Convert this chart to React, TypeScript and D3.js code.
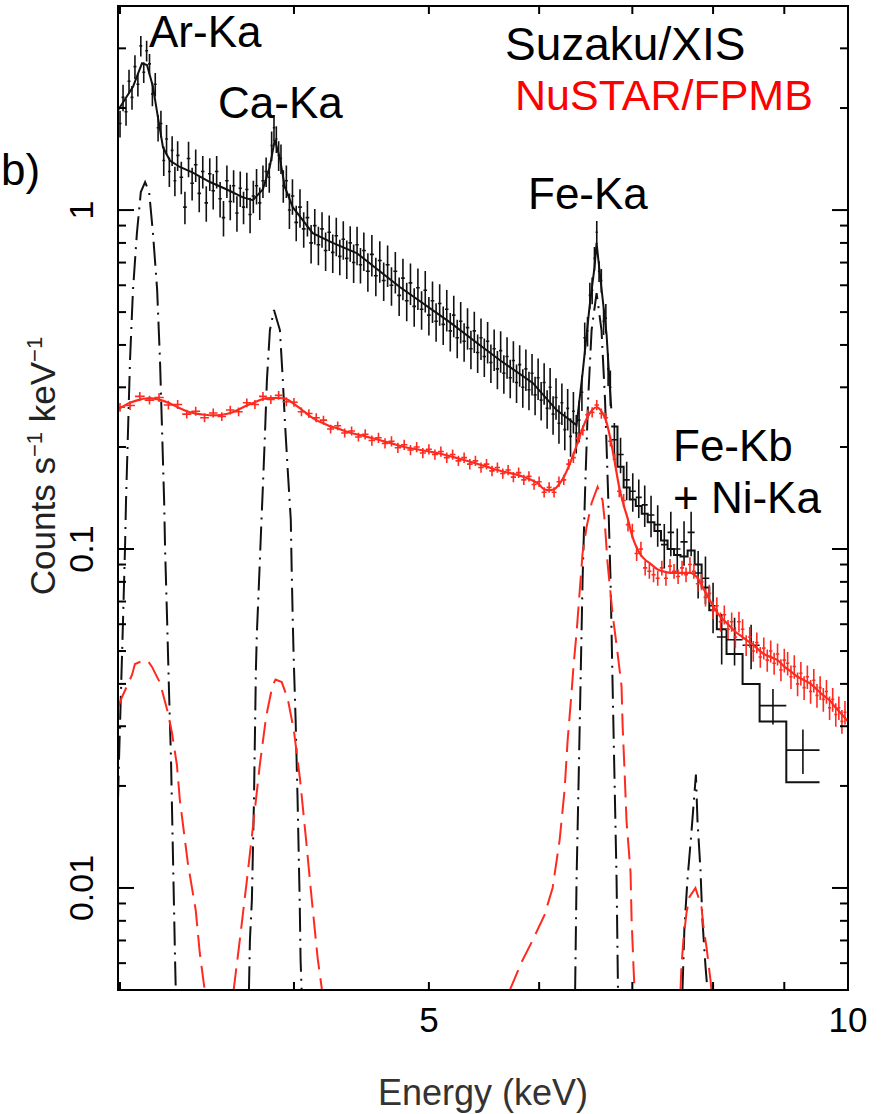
import React from "react";
import * as d3 from "d3";

// ---------------- data ----------------
// Suzaku/XIS data (dense part)
const suzakuE = [3.000,3.015,3.030,3.045,3.060,3.075,3.090,3.105,3.120,3.135,3.150,3.165,3.180,3.195,3.210,3.225,3.240,3.255,3.270,3.285,3.300,
3.320,3.340,3.360,3.380,3.400,3.420,3.440,3.460,3.480,3.500,3.520,3.540,3.560,3.580,3.600,3.620,3.640,3.660,3.680,3.700,3.720,3.740,3.760,3.780,3.800,3.820,3.840,
3.855,3.870,3.885,3.900,3.915,3.930,
3.950,3.970,3.990,
4.015,4.040,4.065,4.090,4.115,4.140,4.165,4.190,4.215,4.240,4.265,4.290,4.315,4.340,4.365,4.390,4.415,4.440,4.465,4.490,
4.520,4.550,4.580,4.610,4.640,4.670,4.700,4.730,4.760,4.790,4.820,4.850,4.880,4.910,4.940,4.970,5.000,5.030,5.060,5.090,5.120,5.150,5.180,5.210,5.240,5.270,5.300,5.330,5.360,5.390,5.420,5.450,5.480,5.510,5.540,5.570,5.600,5.630,5.660,5.690,5.720,5.750,5.780,5.810,5.840,5.870,5.900,5.930,5.960,5.990,6.020,6.050,6.080,6.110,6.140,6.170,6.200,6.230,6.260,6.290,6.320,6.350,6.380,6.410,
6.440,6.470,
6.500,6.525,6.550,6.575,6.600,6.625,6.650,6.675,6.700,6.725,6.750];
const suzakuV = [1.80,2.15,1.95,2.40,2.15,2.65,2.35,3.05,2.55,2.95,2.70,2.20,2.35,1.75,1.80,1.40,1.62,1.30,1.50,1.22,1.45,
1.25,1.02,1.42,1.20,1.36,1.12,1.30,1.05,1.28,1.14,1.30,1.08,0.95,1.22,1.06,1.18,0.98,1.16,1.02,1.15,0.97,1.10,1.18,1.05,1.22,1.30,1.25,
1.55,1.75,1.62,1.45,1.42,1.18,
1.22,1.00,1.10,
0.92,1.02,0.88,0.95,0.80,0.90,0.79,0.88,0.76,0.86,0.75,0.84,0.73,0.82,0.72,0.80,0.70,0.79,0.69,0.76,
0.66,0.74,0.64,0.71,0.62,0.69,0.60,0.66,0.56,0.63,0.54,0.61,0.52,0.59,0.51,0.58,0.49,0.54,0.47,0.53,0.46,0.51,0.44,0.49,0.42,0.47,0.41,0.45,0.39,0.44,0.38,0.42,0.37,0.41,0.355,0.39,0.34,0.385,0.33,0.37,0.32,0.36,0.31,0.35,0.30,0.34,0.295,0.33,0.285,0.32,0.275,0.31,0.26,0.30,0.25,0.28,0.235,0.27,0.225,0.26,0.215,0.255,0.22,0.24,
0.29,0.42,
0.44,0.56,0.58,0.72,0.86,0.66,0.62,0.47,0.48,0.34,0.30];
const suzakuErr = [0.09,0.09,0.09,0.08,0.08,0.08,0.08,0.07,0.07,0.07,0.07,0.08,0.08,0.09,0.09,0.10,0.10,0.10,0.10,0.10,0.10,
0.11,0.11,0.12,0.11,0.11,0.12,0.11,0.12,0.11,0.12,0.11,0.12,0.12,0.11,0.12,0.11,0.12,0.12,0.11,0.12,0.12,0.11,0.12,0.11,0.11,0.10,0.10,
0.10,0.09,0.09,0.10,0.10,0.11,
0.11,0.12,0.12,
0.12,0.13,0.12,0.12,0.13,0.12,0.13,0.12,0.13,0.12,0.13,0.13,0.12,0.13,0.13,0.12,0.13,0.13,0.12,0.13,
0.13,0.14,0.13,0.14,0.13,0.14,0.13,0.14,0.13,0.14,0.13,0.14,0.13,0.14,0.13,0.14,0.13,0.14,0.13,0.14,0.13,0.14,0.13,0.14,0.13,0.14,0.13,0.14,0.13,0.14,0.13,0.14,0.13,0.14,0.13,0.14,0.13,0.14,0.13,0.14,0.13,0.14,0.13,0.14,0.13,0.14,0.13,0.14,0.13,0.14,0.13,0.14,0.13,0.14,0.13,0.14,0.13,0.14,0.13,0.14,0.13,0.14,0.13,0.14,
0.12,0.11,
0.10,0.09,0.09,0.08,0.08,0.07,0.08,0.09,0.10,0.11,0.12];
// Suzaku model (smooth part)
const suzakuModelE = [2.99,3.065,3.111,3.137,3.168,3.194,3.221,3.258,3.312,3.384,3.481,3.580,3.676,3.737,3.799,3.843,3.875,3.907,3.940,3.992,4.126,4.265,4.437,4.765,5.175,5.438,5.621,5.937,6.176,6.383,6.447,6.522,6.576,6.598,6.631,6.708,6.741,6.76];
const suzakuModelV = [1.97,2.31,2.71,2.68,2.31,1.88,1.53,1.40,1.34,1.29,1.21,1.15,1.09,1.07,1.15,1.34,1.61,1.43,1.17,1.02,0.855,0.80,0.747,0.593,0.467,0.40,0.361,0.309,0.257,0.232,0.33,0.52,0.68,0.80,0.66,0.43,0.31,0.26];
// Suzaku high-energy wide bins
const suzakuHiEdges = [6.76,6.83,6.90,6.97,7.04,7.11,7.18,7.26,7.34,7.42,7.50,7.58,7.67,7.76,7.85,7.95,8.05,8.18,8.40,8.64,9.03,9.54];
const suzakuHiModel = [0.23,0.175,0.152,0.140,0.134,0.127,0.120,0.113,0.106,0.100,0.096,0.095,0.099,0.090,0.077,0.066,0.058,0.049,0.040,0.031,0.0205];
const suzakuHiV = [0.21,0.19,0.16,0.148,0.142,0.135,0.126,0.118,0.103,0.112,0.100,0.105,0.112,0.085,0.082,0.068,0.055,0.054,0.052,0.0345,0.0255];
const suzakuHiErr = [0.12,0.12,0.13,0.13,0.13,0.14,0.14,0.14,0.15,0.15,0.15,0.15,0.15,0.16,0.16,0.17,0.17,0.16,0.15,0.12,0.15];

// NuSTAR/FPMB data
const nustarE = [3.00,3.05,3.10,3.15,3.20,3.25,3.30,3.35,3.40,3.45,
3.50,3.55,3.60,3.65,3.70,3.75,3.80,3.85,3.90,3.95,
4.00,4.05,4.10,4.15,4.20,4.25,4.30,4.35,4.40,4.45,
4.50,4.55,4.60,4.65,4.70,4.75,4.80,4.85,4.90,4.95,
5.00,5.05,5.10,5.15,5.20,5.25,5.30,5.35,5.40,5.45,
5.50,5.55,5.60,5.65,5.70,5.75,5.80,5.85,5.90,5.95,
6.00,6.05,6.10,6.15,6.20,6.25,6.30,6.35,6.40,6.45,
6.50,6.55,6.60,6.65,6.70,6.75,6.80,6.85,6.90,6.95,
7.00,7.05,7.10,7.15,7.20,7.25,7.30,7.35,7.40,7.45,
7.50,7.55,7.60,7.65,7.70,7.75,7.80,7.85,7.90,7.95,
8.00,8.05,8.10,8.15,8.20,8.25,8.30,8.35,8.40,8.45,
8.50,8.55,8.60,8.65,8.70,8.75,8.80,8.85,8.90,8.95,
9.00,9.05,9.10,9.15,9.20,9.25,9.30,9.35,9.40,9.45,
9.50,9.55,9.60,9.65,9.70,9.75,9.80,9.85,9.90,9.95,
10.00];
const nustarV = [0.262,0.265,0.282,0.275,0.280,0.266,0.267,0.250,0.255,0.244,
0.252,0.246,0.257,0.254,0.270,0.267,0.282,0.276,0.284,0.272,
0.271,0.254,0.251,0.244,0.240,0.226,0.231,0.220,0.223,0.214,
0.218,0.209,0.213,0.205,0.208,0.199,0.203,0.196,0.200,0.192,
0.197,0.190,0.194,0.186,0.190,0.182,0.186,0.178,0.182,0.174,
0.178,0.170,0.174,0.167,0.171,0.163,0.168,0.160,0.164,0.155,
0.158,0.147,0.152,0.147,0.158,0.160,0.178,0.186,0.212,0.224,
0.249,0.253,0.266,0.251,0.244,0.208,0.184,0.148,0.139,0.118,
0.113,0.097,0.100,0.088,0.086,0.084,0.082,0.088,0.082,0.089,
0.086,0.083,0.088,0.084,0.090,0.086,0.079,0.080,0.072,0.074,
0.066,0.068,0.061,0.064,0.058,0.061,0.055,0.061,0.058,0.052,
0.055,0.050,0.053,0.048,0.051,0.047,0.050,0.046,0.049,0.044,
0.047,0.046,0.042,0.045,0.040,0.043,0.039,0.042,0.038,0.041,
0.037,0.039,0.036,0.038,0.034,0.036,0.0325,0.034,0.031,0.033,
0.030];
const nustarErr = [0.03,0.03,0.03,0.03,0.03,0.03,0.03,0.03,0.03,0.03,
0.03,0.03,0.03,0.03,0.03,0.03,0.03,0.03,0.03,0.03,
0.03,0.03,0.03,0.03,0.03,0.03,0.03,0.03,0.03,0.03,
0.035,0.035,0.035,0.035,0.035,0.035,0.035,0.035,0.035,0.035,
0.035,0.035,0.035,0.035,0.035,0.035,0.035,0.035,0.035,0.035,
0.035,0.035,0.035,0.035,0.035,0.035,0.035,0.035,0.035,0.035,
0.035,0.035,0.035,0.035,0.035,0.035,0.035,0.035,0.035,0.035,
0.035,0.035,0.035,0.035,0.035,0.035,0.04,0.04,0.045,0.045,
0.05,0.05,0.05,0.05,0.05,0.05,0.05,0.05,0.05,0.05,
0.05,0.05,0.05,0.05,0.05,0.05,0.055,0.055,0.06,0.06,
0.06,0.06,0.065,0.065,0.065,0.065,0.07,0.07,0.07,0.07,
0.07,0.07,0.07,0.07,0.075,0.075,0.075,0.075,0.075,0.075,
0.08,0.08,0.08,0.08,0.08,0.08,0.08,0.08,0.08,0.08,
0.08,0.08,0.08,0.08,0.08,0.08,0.08,0.08,0.08,0.08,
0.08];
const nustarModelE = [2.99,3.05,3.10,3.15,3.20,3.25,3.30,3.35,3.40,3.45,3.50,3.55,3.60,3.65,3.70,3.75,3.80,3.85,3.90,3.95,4.00,4.05,4.10,4.15,4.20,4.25,4.30,4.35,4.40,4.50,4.60,4.70,4.80,4.90,5.00,5.10,5.20,5.30,5.40,5.50,5.60,5.70,5.80,5.90,6.00,6.05,6.10,6.15,6.20,6.25,6.30,6.35,6.40,6.45,6.50,6.55,6.60,6.65,6.70,6.75,6.80,6.85,6.90,6.95,7.00,7.05,7.10,7.15,7.20,7.30,7.40,7.50,7.60,7.70,7.80,7.90,8.00,8.10,8.20,8.30,8.40,8.50,8.60,8.70,8.80,8.90,9.00,9.10,9.20,9.30,9.40,9.50,9.60,9.70,9.80,9.90,10.0];
const nustarModelV = [0.258,0.270,0.276,0.279,0.276,0.270,0.262,0.255,0.251,0.249,0.248,0.249,0.252,0.258,0.265,0.271,0.277,0.279,0.279,0.277,0.268,0.258,0.248,0.240,0.235,0.230,0.227,0.223,0.220,0.215,0.210,0.205,0.200,0.197,0.194,0.191,0.187,0.183,0.179,0.175,0.171,0.168,0.165,0.161,0.155,0.150,0.149,0.150,0.155,0.163,0.175,0.190,0.208,0.228,0.245,0.257,0.262,0.255,0.240,0.212,0.180,0.152,0.135,0.122,0.109,0.101,0.096,0.093,0.091,0.087,0.0855,0.085,0.085,0.085,0.082,0.0745,0.068,0.063,0.060,0.057,0.055,0.053,0.051,0.049,0.048,0.047,0.045,0.0435,0.042,0.041,0.040,0.0385,0.037,0.0358,0.034,0.0325,0.031];

// Gaussian line components (dashed)
const xisArE = [2.99,2.995,3.005,3.015,3.025,3.03,3.04,3.05,3.065,3.085,3.105,3.127,3.148,3.168,3.19,3.205,3.216,3.227,3.232,3.243,3.253,3.264,3.275,3.286,3.291];
const xisArV = [0.0182,0.0239,0.0384,0.0617,0.1014,0.139,0.224,0.361,0.581,0.855,1.13,1.21,1.13,0.855,0.581,0.361,0.224,0.139,0.101,0.0617,0.0384,0.0239,0.0121,0.00613,0.00468];
const xisCaE = [3.713,3.719,3.731,3.744,3.756,3.762,3.775,3.787,3.800,3.812,3.825,3.844,3.870,3.908,3.927,3.940,3.959,3.979,3.985,3.992,3.998,4.011,4.024,4.038,4.044,4.051];
const xisCaV = [0.00499,0.00702,0.0092,0.0182,0.044,0.0565,0.0794,0.11,0.1545,0.214,0.315,0.4426,0.507,0.4426,0.315,0.240,0.171,0.122,0.0867,0.0617,0.048,0.0313,0.0182,0.0092,0.00613,0.00499];
const xisFeE = [6.368,6.383,6.405,6.426,6.447,6.474,6.506,6.544,6.598,6.652,6.691,6.724,6.752,6.774,6.797,6.820,6.836];
const xisFeV = [0.00499,0.01056,0.0208,0.0411,0.081,0.149,0.275,0.4426,0.569,0.4426,0.275,0.149,0.081,0.0411,0.0208,0.01056,0.00499];
const xisNiE = [7.605,7.630,7.668,7.719,7.776,7.796,7.835,7.860,7.900,7.926];
const xisNiV = [0.00499,0.00767,0.01056,0.01463,0.0216,0.01587,0.0113,0.00805,0.00589,0.00499];
const fpmArE = [2.99,3.010,3.060,3.075,3.111,3.142,3.163,3.205,3.248,3.269,3.296,3.312,3.356,3.400,3.423,3.451];
const fpmArV = [0.0340,0.0366,0.0425,0.0458,0.0467,0.0467,0.0449,0.0403,0.0328,0.0287,0.02306,0.0182,0.01185,0.00861,0.00643,0.00499];
const fpmCaE = [3.62,3.66,3.70,3.74,3.78,3.82,3.86,3.88,3.92,3.96,4.00,4.04,4.08,4.12,4.16,4.19];
const fpmCaV = [0.00499,0.0072,0.0105,0.0155,0.0230,0.0320,0.0395,0.0412,0.0405,0.0360,0.0290,0.0210,0.0140,0.0092,0.0062,0.00499];
const fpmFeE = [5.715,5.829,5.937,6.054,6.135,6.207,6.258,6.289,6.331,6.352,6.383,6.415,6.447,6.490,6.544,6.609,6.664,6.686,6.719,6.774,6.831,6.876,6.888,6.911,6.933,6.979,6.991,7.014,7.026];
const fpmFeV = [0.00499,0.00605,0.00702,0.00833,0.0100,0.01385,0.01946,0.0271,0.0379,0.0455,0.0565,0.0742,0.0973,0.1161,0.1367,0.1524,0.139,0.122,0.0909,0.0647,0.0493,0.0394,0.0303,0.02199,0.01576,0.01115,0.00816,0.00581,0.00499];
const fpmNiE = [7.580,7.592,7.617,7.656,7.694,7.770,7.848,7.874,7.913,7.966,7.979];
const fpmNiV = [0.00499,0.00585,0.00702,0.00844,0.00941,0.0100,0.00879,0.00767,0.0067,0.00535,0.00499];

// axes
const xLabeledTicks = [5, 10];
const xMinorTicks = [3, 4, 6, 7, 8, 9];
const yLabeledTicks = [0.01, 0.1, 1];
const yLabelText = ["0.01", "0.1", "1"];
const yMinorTicks = [0.006,0.007,0.008,0.009,0.02,0.03,0.04,0.05,0.06,0.07,0.08,0.09,0.2,0.3,0.4,0.5,0.6,0.7,0.8,0.9,2,3];

// ---------------- chart ----------------
const W = 886, H = 1114;
const L = 118, R = 848, T = 6, B = 990;
const FONT = "'Liberation Sans', Arial, Helvetica, sans-serif";
const RED = "#ff2a1f";
const BLACK = "#111";

export default function App() {
  const x = d3.scaleLog().domain([2.99, 10]).range([L, R]);
  const y = d3.scaleLog().domain([0.005, 4]).range([B, T]);

  const line = (es: number[], vs: number[], curve: any = d3.curveLinear) =>
    d3.line<number>().x((_, i) => x(es[i])).y((_, i) => y(vs[i])).curve(curve)(es) || "";

  const crosses = (es: number[], vs: number[], errs: number[], halfW: (i: number) => [number, number]) => {
    let p = "";
    es.forEach((e, i) => {
      const [lo, hi] = halfW(i);
      const yy = y(vs[i]);
      p += `M${x(lo)},${yy}H${x(hi)}`;
      p += `M${x(e)},${y(vs[i] * (1 - errs[i]))}V${y(vs[i] * (1 + errs[i]))}`;
    });
    return p;
  };
  const nbHalf = (es: number[]) => (i: number): [number, number] => {
    const prev = i > 0 ? es[i - 1] : es[i] - (es[i + 1] - es[i]);
    const next = i < es.length - 1 ? es[i + 1] : es[i] + (es[i] - es[i - 1]);
    return [(prev + es[i]) / 2, (es[i] + next) / 2];
  };

  const suzakuHiCenters = suzakuHiV.map((_, i) => Math.sqrt(suzakuHiEdges[i] * suzakuHiEdges[i + 1]));
  const stepPts = suzakuHiModel.map((v, i) => [suzakuHiEdges[i], v] as [number, number]);
  stepPts.push([suzakuHiEdges[suzakuHiEdges.length - 1], suzakuHiModel[suzakuHiModel.length - 1]]);
  const stepPath = d3.line<[number, number]>().x(d => x(d[0])).y(d => y(d[1])).curve(d3.curveStepAfter)(stepPts) || "";

  const ticks: JSX.Element[] = [];
  xLabeledTicks.concat(xMinorTicks).forEach((t, i) => {
    const xx = x(t);
    ticks.push(<line key={"xb" + i} x1={xx} x2={xx} y1={B} y2={B - 8} />);
    ticks.push(<line key={"xt" + i} x1={xx} x2={xx} y1={T} y2={T + 8} />);
  });
  yLabeledTicks.forEach((t, i) => {
    const yy = y(t);
    ticks.push(<line key={"yl" + i} x1={L} x2={L + 16} y1={yy} y2={yy} />);
    ticks.push(<line key={"yr" + i} x1={R} x2={R - 16} y1={yy} y2={yy} />);
  });
  yMinorTicks.forEach((t, i) => {
    const yy = y(t);
    ticks.push(<line key={"yml" + i} x1={L} x2={L + 8} y1={yy} y2={yy} />);
    ticks.push(<line key={"ymr" + i} x1={R} x2={R - 8} y1={yy} y2={yy} />);
  });

  return (
    <svg width={W} height={H} style={{ position: "absolute", left: 0, top: 0, background: "#fff" }} fontFamily={FONT}>
      <defs>
        <clipPath id="plot"><rect x={L} y={T} width={R - L} height={B - T} /></clipPath>
      </defs>
      <g clipPath="url(#plot)" fill="none">
        {/* black line components */}
        <g stroke={BLACK} strokeWidth={2} strokeDasharray="24 7 2 7">
          <path d={line(xisArE, xisArV)} />
          <path d={line(xisCaE, xisCaV)} />
          <path d={line(xisFeE, xisFeV)} />
          <path d={line(xisNiE, xisNiV)} />
        </g>
        {/* red line components */}
        <g stroke={RED} strokeWidth={2} strokeDasharray="22 9">
          <path d={line(fpmArE, fpmArV)} />
          <path d={line(fpmCaE, fpmCaV)} />
          <path d={line(fpmFeE, fpmFeV)} />
          <path d={line(fpmNiE, fpmNiV)} />
        </g>
        {/* Suzaku data and model */}
        <path d={crosses(suzakuE, suzakuV, suzakuErr, nbHalf(suzakuE))} stroke={BLACK} strokeWidth={1.6} />
        <path d={crosses(suzakuHiCenters, suzakuHiV, suzakuHiErr, i => [suzakuHiEdges[i], suzakuHiEdges[i + 1]])} stroke={BLACK} strokeWidth={1.6} />
        <path d={line(suzakuModelE, suzakuModelV)} stroke={BLACK} strokeWidth={2} />
        <path d={stepPath} stroke={BLACK} strokeWidth={2} />
        {/* NuSTAR data and model */}
        <path d={crosses(nustarE, nustarV, nustarErr, nbHalf(nustarE))} stroke={RED} strokeWidth={1.6} />
        <path d={line(nustarModelE, nustarModelV, d3.curveMonotoneX)} stroke={RED} strokeWidth={2.2} />
      </g>
      {/* frame + ticks */}
      <rect x={L} y={T} width={R - L} height={B - T} fill="none" stroke="#000" strokeWidth={2} />
      <g stroke="#000" strokeWidth={2}>{ticks}</g>
      {/* tick labels */}
      {xLabeledTicks.map((t) => (
        <text key={"xl" + t} x={x(t)} y={1032} fontSize={35} textAnchor="middle" fill="#000">{t}</text>
      ))}
      {yLabeledTicks.map((t, i) => (
        <text key={"ylab" + t} transform={`translate(93,${y(t)}) rotate(-90)`} fontSize={34} textAnchor="middle" fill="#000">{yLabelText[i]}</text>
      ))}
      {/* axis titles */}
      <text x={483} y={1105} fontSize={36} textAnchor="middle" fill="#333">Energy (keV)</text>
      <text transform="translate(55,466) rotate(-90)" fontSize={35} textAnchor="middle" fill="#222">
        Counts s<tspan fontSize={22} dy={-13}>−1</tspan><tspan dy={13}> keV</tspan><tspan fontSize={22} dy={-13}>−1</tspan>
      </text>
      {/* annotations */}
      <g fontSize={44} fill="#000">
        <text x={149} y={47}>Ar-Ka</text>
        <text x={218} y={118}>Ca-Ka</text>
        <text x={528} y={209}>Fe-Ka</text>
        <text x={673} y={461}>Fe-Kb</text>
        <text x={673} y={513}>+ Ni-Ka</text>
        <text x={505} y={60} fontSize={46}>Suzaku/XIS</text>
        <text x={515} y={110} fill="#ff0000" fontSize={43}>NuSTAR/FPMB</text>
        <text x={1} y={185}>b)</text>
      </g>
    </svg>
  );
}
